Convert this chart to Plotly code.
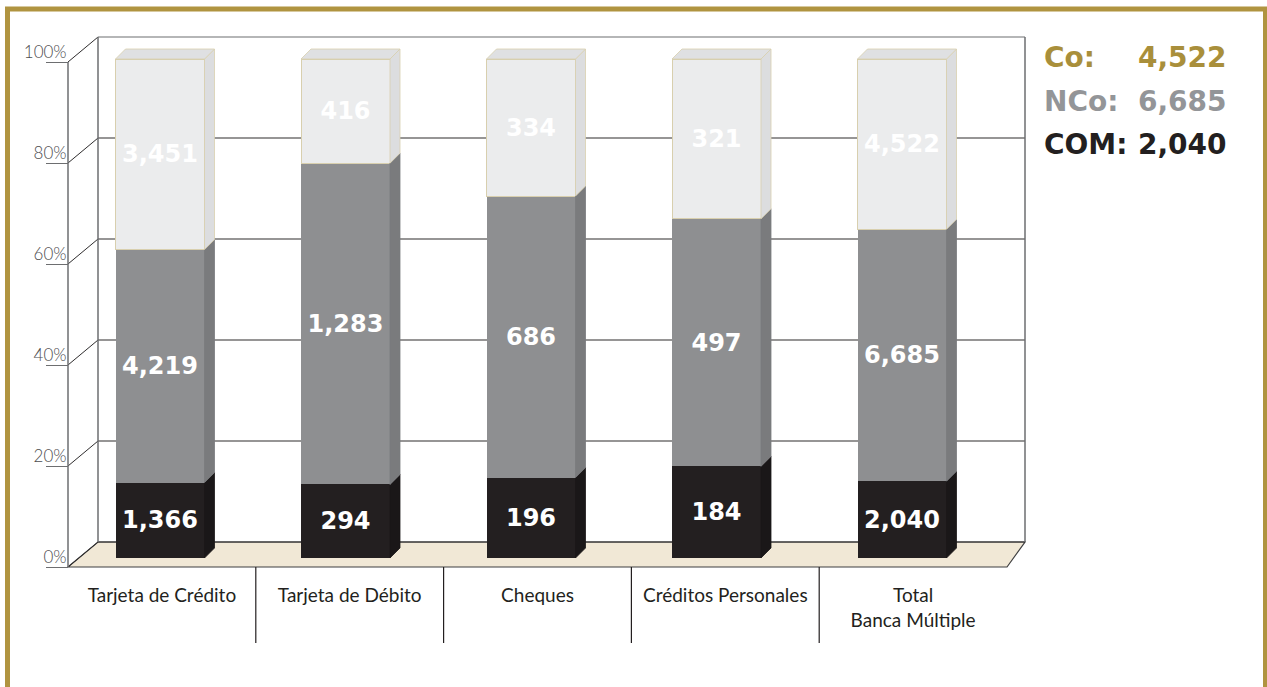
import plotly.graph_objects as go

# ---------------- data ----------------
categories = ["Tarjeta de Crédito", "Tarjeta de Débito", "Cheques",
              "Créditos Personales", "Total<br>Banca Múltiple"]
series_names = ["COM", "NCo", "Co"]          # stacking order, bottom -> top
com_values = [1366, 294, 196, 184, 2040]
nco_values = [4219, 1283, 686, 497, 6685]
co_values = [3451, 416, 334, 321, 4522]
y_tick_values = [0, 20, 40, 60, 80, 100]

# ---------------- styling / geometry (reference pixel coordinates) ----------------
W, H = 1267, 687
L_PX, R_PX, T_PX, B_PX = 68, 1025, 30, 567        # plot paper extent (px)
PW, PH = R_PX - L_PX, B_PX - T_PX

BACK_X0, BACK_X1 = 98, 1025
BACK_Y0, BACK_Y100 = 542, 37
FRONT_Y0, FRONT_Y100 = 567, 62
FRONT_X1 = 1007
BAR_Y0, BAR_Y100 = 558, 59
BAR_C0, BAR_STEP, BAR_W_PX = 160, 185.5, 89
LAB_C0, LAB_STEP = 161.9, 187.8
DEPTH_X, DEPTH_Y = 10, 10

front_colors = {"COM": "#231f20", "NCo": "#8e8f91", "Co": "#ebeced"}
side_colors = {"COM": "#1a1718", "NCo": "#7a7b7d", "Co": "#dcdddf"}
top_color = "#dfe0e2"
legend_colors = {"Co": "#a98f3b", "NCo": "#939598", "COM": "#231f20"}
gold = "#b09440"


def px(x):
    return (x - L_PX) / PW


def py(y):
    return (B_PX - y) / PH


def y_range(p0, p100):
    s = (p0 - p100) / 100.0
    return [-(B_PX - p0) / s, 100 + (p100 - T_PX) / s]


def y_front(v):
    return FRONT_Y0 - v * (FRONT_Y0 - FRONT_Y100) / 100.0


def y_back(v):
    return BACK_Y0 - v * (BACK_Y0 - BACK_Y100) / 100.0


bar_lo = -(BAR_C0 - BACK_X0) / BAR_STEP
bar_range = [bar_lo, bar_lo + (BACK_X1 - BACK_X0) / BAR_STEP]
lab_lo = -(LAB_C0 - BACK_X0) / LAB_STEP
lab_range = [lab_lo, lab_lo + (BACK_X1 - BACK_X0) / LAB_STEP]
bar_w = BAR_W_PX / BAR_STEP
bar_scale = (BAR_Y0 - BAR_Y100) / 100.0
dx = DEPTH_X / BAR_STEP
dy = DEPTH_Y / bar_scale

values = {"COM": com_values, "NCo": nco_values, "Co": co_values}
idx = list(range(len(categories)))

fig = go.Figure()
for name in series_names:
    vals = values[name]
    fig.add_trace(go.Bar(
        x=idx, y=vals, name=name, width=bar_w,
        marker=dict(color=front_colors[name],
                    line=dict(color="#d8cfae" if name == "Co" else front_colors[name],
                              width=1 if name == "Co" else 0)),
        text=[f"{v:,}" for v in vals], texttemplate="%{text}",
        textposition="inside", insidetextanchor="middle", textangle=0,
        textfont=dict(color="white", size=24, family="DejaVu Sans", weight="bold"),
        hoverinfo="skip", showlegend=False, cliponaxis=False,
    ))

# invisible trace carrying the category axis (front plane labels)
fig.add_trace(go.Scatter(x=categories, y=[0] * len(categories), xaxis="x2", yaxis="y2",
                         mode="markers", marker=dict(opacity=0), hoverinfo="skip",
                         showlegend=False))

shapes = []
# floor
floor_path = (f"M 0,{py(FRONT_Y0)} L {px(FRONT_X1)},{py(FRONT_Y0)} "
              f"L {px(BACK_X1)},{py(BACK_Y0)} L {px(BACK_X0)},{py(BACK_Y0)} Z")
shapes.append(dict(type="path", path=floor_path, xref="paper", yref="paper",
                   fillcolor="#f1e8d6", line=dict(color="#3f3f40", width=1.2), layer="below"))
# back wall grid, diagonals
for v in y_tick_values:
    shapes.append(dict(type="line", xref="paper", yref="paper",
                       x0=px(BACK_X0), x1=px(BACK_X1), y0=py(y_back(v)), y1=py(y_back(v)),
                       line=dict(color="#2e2c2d" if v < 100 else "#6d6e70", width=1.1),
                       layer="below"))
    shapes.append(dict(type="line", xref="paper", yref="paper",
                       x0=0, x1=px(BACK_X0), y0=py(y_front(v)), y1=py(y_back(v)),
                       line=dict(color="#2e2c2d", width=1), layer="below"))
for xb in (BACK_X0, BACK_X1):
    shapes.append(dict(type="line", xref="paper", yref="paper",
                       x0=px(xb), x1=px(xb), y0=py(y_back(0)), y1=py(y_back(100)),
                       line=dict(color="#6d6e70", width=1.5), layer="below"))
# front axis line
shapes.append(dict(type="line", xref="paper", yref="paper", x0=0, x1=0,
                   y0=py(y_front(0)), y1=py(y_front(100)),
                   line=dict(color="#6d6e70", width=1.5)))

# 3D faces of bars
totals = [a + b + c for a, b, c in zip(com_values, nco_values, co_values)]
for i in idx:
    base = 0.0
    xl, xr = i - bar_w / 2, i + bar_w / 2
    for name in series_names:
        top = base + values[name][i] / totals[i] * 100.0
        path = (f"M {xr},{base} L {xr + dx},{base + dy} L {xr + dx},{top + dy} "
                f"L {xr},{top} Z")
        shapes.append(dict(type="path", path=path, xref="x", yref="y",
                           fillcolor=side_colors[name],
                           line=dict(color="#d8cfae" if name == "Co" else side_colors[name],
                                     width=0.8), layer="above"))
        base = top
    path = f"M {xl},{base} L {xl + dx},{base + dy} L {xr + dx},{base + dy} L {xr},{base} Z"
    shapes.append(dict(type="path", path=path, xref="x", yref="y", fillcolor=top_color,
                       line=dict(color="#d8cfae", width=0.8), layer="above"))

# category separators
for k in range(len(categories) - 1):
    shapes.append(dict(type="line", xref="x2", yref="paper", x0=k + 0.5, x1=k + 0.5,
                       y0=py(FRONT_Y0), y1=py(643), line=dict(color="#231f20", width=1.2)))

# gold frame
shapes.append(dict(type="rect", xref="paper", yref="paper",
                   x0=px(7.5), x1=px(1265.5), y0=py(9), y1=py(730),
                   line=dict(color=gold, width=5), fillcolor="rgba(0,0,0,0)"))

# summary legend (values of the total column)
annotations = []
legend_rows = [("Co", co_values[-1], 57), ("NCo", nco_values[-1], 101), ("COM", com_values[-1], 144)]
for name, val, yy in legend_rows:
    f = dict(family="DejaVu Sans", size=28, color=legend_colors[name], weight="bold")
    annotations.append(dict(x=px(1042), y=py(yy), xref="paper", yref="paper",
                            text=f"{name}:", showarrow=False, xanchor="left",
                            yanchor="middle", font=f))
    annotations.append(dict(x=px(1229), y=py(yy), xref="paper", yref="paper",
                            text=f"{val:,}", showarrow=False, xanchor="right",
                            yanchor="middle", font=f))

fig.update_layout(
    width=W, height=H,
    margin=dict(l=L_PX, r=W - R_PX, t=T_PX, b=H - B_PX, autoexpand=False),
    paper_bgcolor="white", plot_bgcolor="rgba(0,0,0,0)",
    barmode="stack", barnorm="percent",
    showlegend=False,
    xaxis=dict(domain=[px(BACK_X0), 1], range=bar_range, showgrid=False, zeroline=False,
               showticklabels=False, showline=False, ticks="", fixedrange=True),
    yaxis=dict(range=y_range(BAR_Y0, BAR_Y100), showgrid=False, zeroline=False,
               showticklabels=False, showline=False, ticks="", fixedrange=True),
    xaxis2=dict(overlaying="x", anchor="y", domain=[px(BACK_X0), 1], type="category",
                range=lab_range, showgrid=False, zeroline=False, showline=False, ticks="",
                tickfont=dict(family="Lato", size=19, color="#231f20"),
                ticklabelstandoff=15, fixedrange=True),
    yaxis2=dict(overlaying="y", anchor="free", position=0, side="left",
                range=y_range(FRONT_Y0, FRONT_Y100), showgrid=False, zeroline=False,
                showline=False, ticks="outside", ticklen=22, tickwidth=1.3,
                tickcolor="#6d6e70", tickvals=y_tick_values,
                ticktext=[f"{v}%" for v in y_tick_values],
                tickfont=dict(family="Lato", size=17, color="#4d4d4f", weight=300),
                ticklabelshift=-10, ticklabelstandoff=-24, fixedrange=True),
    shapes=shapes, annotations=annotations,
)

fig.write_html("out.html", config={"displayModeBar": False},
               post_script="document.body.style.margin='0';"
                           "document.body.style.overflow='hidden';")
